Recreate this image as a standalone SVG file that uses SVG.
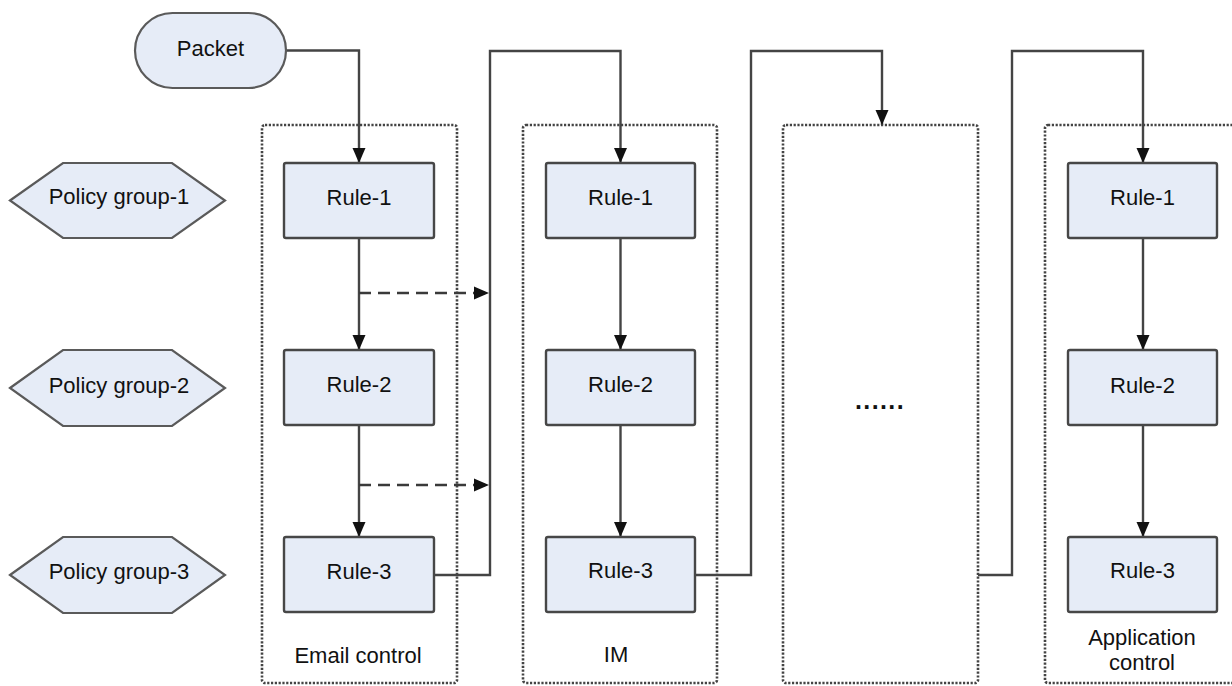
<svg xmlns="http://www.w3.org/2000/svg" width="1232" height="686" viewBox="0 0 1232 686">
<style>
text{font-family:"Liberation Sans",Arial,sans-serif;font-size:22px;fill:#111;text-anchor:middle}
.rule{fill:#e6ecf7;stroke:#474747;stroke-width:2.4}
.hex{fill:#e6ecf7;stroke:#5a5a5a;stroke-width:2.2}
.grp{fill:none;stroke:#444;stroke-width:2.6;stroke-dasharray:2.2 1.6}
.ln{fill:none;stroke:#444;stroke-width:2.4}
.arr{marker-end:url(#ah)}
.dash{fill:none;stroke:#3a3a3a;stroke-width:2.4;stroke-dasharray:12 7;marker-end:url(#ah)}
</style>
<defs>
<marker id="ah" markerUnits="userSpaceOnUse" markerWidth="16" markerHeight="14" refX="15" refY="7" orient="auto">
<path d="M0,0.5 L15,7 L0,13.5 z" fill="#111"/>
</marker>
</defs>
<g id="groups">
<rect id="email-box" class="grp" x="262" y="125" width="195" height="558" rx="3"/>
<rect id="im-box" class="grp" x="523" y="125" width="194" height="558" rx="3"/>
<rect id="etc-box" class="grp" x="783" y="125" width="195" height="558" rx="3"/>
<rect id="app-box" class="grp" x="1045" y="125" width="200" height="558" rx="3"/>
</g>
<g id="connectors">
<path class="ln arr" d="M286,50.5 H359 V163"/>
<path class="ln arr" d="M359,238 V350"/>
<path class="ln arr" d="M359,425 V537"/>
<path class="dash" d="M359,293 H489"/>
<path class="dash" d="M359,485 H489"/>
<path class="ln arr" d="M434,575 H490 V51 H620.5 V163"/>
<path class="ln arr" d="M620.5,238 V350"/>
<path class="ln arr" d="M620.5,425 V537"/>
<path class="ln arr" d="M695,575 H751 V51 H882 V125"/>
<path class="ln arr" d="M978,575 H1012 V51 H1143 V163"/>
<path class="ln arr" d="M1143,238 V350"/>
<path class="ln arr" d="M1143,425 V537"/>
</g>
<g id="packet">
<rect x="135" y="13" width="151" height="75" rx="37.5" class="hex"/>
<text x="210.5" y="56">Packet</text>
</g>
<g id="policy-group-1">
<polygon class="hex" points="10,200.5 63,163 172,163 225,200.5 172,238 63,238"/>
<text x="119" y="204">Policy group-1</text>
</g>
<g id="policy-group-2">
<polygon class="hex" points="10,388 63,350 172,350 225,388 172,426 63,426"/>
<text x="119" y="393">Policy group-2</text>
</g>
<g id="policy-group-3">
<polygon class="hex" points="10,575 63,537 172,537 225,575 172,613 63,613"/>
<text x="119" y="579">Policy group-3</text>
</g>
<g id="email-rule-1"><rect class="rule" x="284" y="163" width="150" height="75" rx="2"/><text x="359" y="205">Rule-1</text></g>
<g id="email-rule-2"><rect class="rule" x="284" y="350" width="150" height="75" rx="2"/><text x="359" y="392">Rule-2</text></g>
<g id="email-rule-3"><rect class="rule" x="284" y="537" width="150" height="75" rx="2"/><text x="359" y="579">Rule-3</text></g>
<g id="im-rule-1"><rect class="rule" x="546" y="163" width="149" height="75" rx="2"/><text x="620.5" y="205">Rule-1</text></g>
<g id="im-rule-2"><rect class="rule" x="546" y="350" width="149" height="75" rx="2"/><text x="620.5" y="392">Rule-2</text></g>
<g id="im-rule-3"><rect class="rule" x="546" y="537" width="149" height="75" rx="2"/><text x="620.5" y="578">Rule-3</text></g>
<g id="app-rule-1"><rect class="rule" x="1068" y="163" width="149" height="75" rx="2"/><text x="1142.5" y="205">Rule-1</text></g>
<g id="app-rule-2"><rect class="rule" x="1068" y="350" width="149" height="75" rx="2"/><text x="1142.5" y="393">Rule-2</text></g>
<g id="app-rule-3"><rect class="rule" x="1068" y="537" width="149" height="75" rx="2"/><text x="1142.5" y="578">Rule-3</text></g>
<g id="labels">
<text x="358" y="663">Email control</text>
<text x="616" y="662">IM</text>
<text x="1142" y="645">Application</text>
<text x="1142" y="670">control</text>
<text x="880" y="409" style="font-size:25px;font-weight:bold;letter-spacing:1.4px">......</text>
</g>
</svg>
